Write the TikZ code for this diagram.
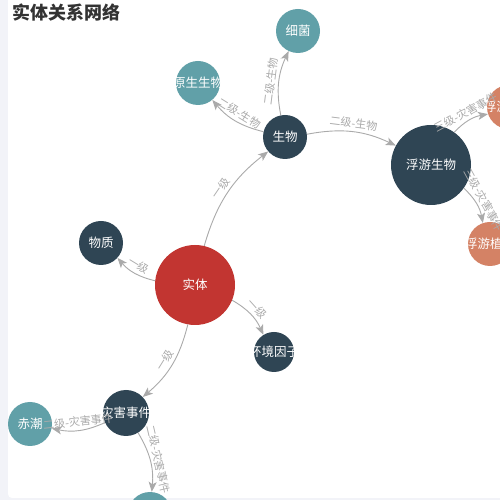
\documentclass[tikz,border=0pt]{standalone}
\usepackage{fontspec}
\newfontfamily\cjk{Noto Sans CJK SC}
\usetikzlibrary{arrows.meta}
\definecolor{bgc}{HTML}{F2F3F8}
\definecolor{cred}{HTML}{C23531}
\definecolor{cdark}{HTML}{2F4554}
\definecolor{cteal}{HTML}{61A0A8}
\definecolor{corange}{HTML}{D48265}
\definecolor{egray}{HTML}{AAAAAA}
\definecolor{tgray}{HTML}{333333}
\tikzset{
  nd/.style={circle, inner sep=0pt, draw=none},
  ntext/.style={text=white, font=\cjk\fontsize{12.5}{14}\selectfont, inner sep=0pt},
  edge/.style={draw=egray, line width=0.9pt, -{Stealth[length=10pt,width=8pt,inset=2.5pt]}},
  elabel/.style={midway, sloped, above, text=egray, font=\cjk\fontsize{11}{12}\selectfont, inner sep=3pt},
}
\begin{document}
\begin{tikzpicture}[x=1pt,y=1pt]
\useasboundingbox (0,0) rectangle (500,500);
\clip (0,0) rectangle (500,500);
\fill[bgc] (0,0) rectangle (500,500);
\fill[white, rounded corners=4pt] (8,2) rectangle (510,510);
\node[anchor=west, text=tgray, font=\cjk\bfseries\fontsize{18}{20}\selectfont, inner sep=0pt] (title) at (12,487) {实体关系网络};

\node[nd, fill=cred, minimum size=80pt, label={[ntext]center:实体}] (shiti) at (195,215) {};
\node[nd, fill=cdark, minimum size=44pt, label={[ntext]center:物质}] (wuzhi) at (101,257) {};
\node[nd, fill=cdark, minimum size=40pt, label={[ntext]center:环境因子}] (huanjing) at (274,148) {};
\node[nd, fill=cdark, minimum size=44pt, label={[ntext]center:生物}] (shengwu) at (285,363) {};
\node[nd, fill=cteal, minimum size=44pt, label={[ntext]center:细菌}] (xijun) at (298,469) {};
\node[nd, fill=cteal, minimum size=44pt, label={[ntext]center:原生生物}] (yuansheng) at (198,417) {};
\node[nd, fill=cdark, minimum size=80pt, label={[ntext]center:浮游生物}] (fuyou) at (431,335) {};
\node[nd, fill=corange, minimum size=44pt, label={[ntext]center:浮游动物}] (fdongwu) at (509,393) {};
\node[nd, fill=corange, minimum size=44pt, label={[ntext]center:浮游植物}] (fzhiwu) at (490,256) {};
\node[nd, fill=cdark, minimum size=46pt, label={[ntext]center:灾害事件}] (zaihai) at (126,87) {};
\node[nd, fill=cteal, minimum size=44pt, label={[ntext]center:赤潮}] (chichao) at (30,76) {};
\node[nd, fill=cteal, minimum size=44pt] (bottom) at (150,-14) {};

\draw[edge] (shiti) to[bend left=18] node[elabel]{一级} (shengwu);
\draw[edge] (shiti) to[bend left=18] node[elabel]{一级} (wuzhi);
\draw[edge] (shiti) to[bend left=18] node[elabel]{一级} (huanjing);
\draw[edge] (shiti) to[bend left=18] node[elabel]{一级} (zaihai);
\draw[edge] (shengwu) to[bend left=18] node[elabel]{二级-生物} (yuansheng);
\draw[edge] (shengwu) to[bend left=18] node[elabel]{二级-生物} (xijun);
\draw[edge] (shengwu) to[bend left=18] node[elabel]{二级-生物} (fuyou);
\draw[edge] (fuyou) to[bend left=18] node[elabel]{三级-灾害事件} (fdongwu);
\draw[edge] (fuyou) to[bend left=18] node[elabel]{三级-灾害事件} (fzhiwu);
\draw[edge] (zaihai) to[bend left=18] node[elabel]{二级-灾害事件} (chichao);
\draw[edge] (zaihai) to[bend left=18] node[elabel]{二级-灾害事件} (bottom);
\end{tikzpicture}
\end{document}
